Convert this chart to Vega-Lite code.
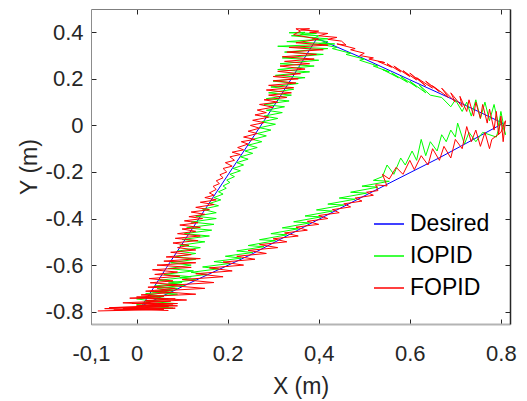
{
  "$schema": "https://vega.github.io/schema/vega-lite/v6.json",
  "width": 419,
  "height": 315,
  "autosize": {"type": "none"},
  "padding": {"left": 91, "top": 9, "right": 17, "bottom": 77},
  "background": "white",
  "datasets": {
    "des": [
      {"x":0.012,"y":-0.775},{"x":0.066,"y":-0.61},{"x":0.169,"y":-0.306},{"x":0.315,"y":0.123},{"x":0.396,"y":0.374},
      {"x":0.5,"y":0.286},{"x":0.6,"y":0.196},{"x":0.703,"y":0.104},{"x":0.805,"y":0.009},{"x":0.666,"y":-0.138},
      {"x":0.556,"y":-0.247},{"x":0.447,"y":-0.356},{"x":0.352,"y":-0.452},{"x":0.249,"y":-0.557},{"x":0.13,"y":-0.665},{"x":0.012,"y":-0.775}
    ],
    "iop": [
      {"x":0.0,"y":-0.79},{"x":0.08,"y":-0.785},{"x":0.01,"y":-0.775},{"x":0.085,"y":-0.765},{"x":0.02,"y":-0.755},{"x":0.07,"y":-0.745},{"x":0.03,"y":-0.735},{"x":0.09,"y":-0.725},{"x":0.035,"y":-0.715},{"x":0.09,"y":-0.7},
      {"x":0.04,"y":-0.69},{"x":0.1,"y":-0.675},{"x":0.05,"y":-0.665},{"x":0.12,"y":-0.65},{"x":0.06,"y":-0.64},{"x":0.125,"y":-0.625},{"x":0.07,"y":-0.615},{"x":0.12,"y":-0.6},{"x":0.075,"y":-0.59},{"x":0.13,"y":-0.575},
      {"x":0.085,"y":-0.565},{"x":0.13,"y":-0.55},{"x":0.09,"y":-0.54},{"x":0.14,"y":-0.525},{"x":0.095,"y":-0.515},{"x":0.15,"y":-0.5},{"x":0.1,"y":-0.49},{"x":0.16,"y":-0.475},{"x":0.105,"y":-0.465},{"x":0.165,"y":-0.45},
      {"x":0.11,"y":-0.44},{"x":0.17,"y":-0.425},{"x":0.12,"y":-0.415},{"x":0.175,"y":-0.4},{"x":0.13,"y":-0.39},{"x":0.175,"y":-0.375},{"x":0.145,"y":-0.36},{"x":0.18,"y":-0.345},{"x":0.16,"y":-0.335},{"x":0.185,"y":-0.32},
      {"x":0.17,"y":-0.31},{"x":0.19,"y":-0.295},{"x":0.18,"y":-0.285},{"x":0.197,"y":-0.27},{"x":0.19,"y":-0.26},{"x":0.205,"y":-0.245},{"x":0.198,"y":-0.235},{"x":0.215,"y":-0.22},{"x":0.205,"y":-0.21},{"x":0.228,"y":-0.195},
      {"x":0.212,"y":-0.185},{"x":0.235,"y":-0.17},{"x":0.22,"y":-0.16},{"x":0.245,"y":-0.145},{"x":0.228,"y":-0.135},{"x":0.255,"y":-0.12},{"x":0.238,"y":-0.11},{"x":0.265,"y":-0.095},{"x":0.245,"y":-0.085},{"x":0.275,"y":-0.07},
      {"x":0.255,"y":-0.06},{"x":0.285,"y":-0.045},{"x":0.265,"y":-0.035},{"x":0.295,"y":-0.02},{"x":0.27,"y":-0.01},{"x":0.305,"y":0.005},{"x":0.275,"y":0.015},{"x":0.31,"y":0.03},{"x":0.28,"y":0.04},{"x":0.32,"y":0.055},
      {"x":0.285,"y":0.065},{"x":0.325,"y":0.08},{"x":0.28,"y":0.09},{"x":0.335,"y":0.105},{"x":0.285,"y":0.115},{"x":0.34,"y":0.13},{"x":0.29,"y":0.14},{"x":0.345,"y":0.155},{"x":0.295,"y":0.165},{"x":0.355,"y":0.18},
      {"x":0.3,"y":0.19},{"x":0.37,"y":0.205},{"x":0.305,"y":0.215},{"x":0.38,"y":0.23},{"x":0.31,"y":0.24},{"x":0.39,"y":0.255},{"x":0.315,"y":0.265},{"x":0.4,"y":0.28},{"x":0.32,"y":0.29},{"x":0.41,"y":0.305},
      {"x":0.325,"y":0.315},{"x":0.42,"y":0.33},{"x":0.31,"y":0.34},{"x":0.435,"y":0.35},{"x":0.33,"y":0.36},{"x":0.42,"y":0.372},{"x":0.34,"y":0.385},{"x":0.395,"y":0.395},{"x":0.335,"y":0.398},
      {"x":0.37,"y":0.4},{"x":0.36,"y":0.39},{"x":0.4,"y":0.385},{"x":0.385,"y":0.37},{"x":0.42,"y":0.36},{"x":0.4,"y":0.35},{"x":0.44,"y":0.335},{"x":0.43,"y":0.33},{"x":0.47,"y":0.31},{"x":0.46,"y":0.305},
      {"x":0.5,"y":0.285},{"x":0.49,"y":0.28},{"x":0.53,"y":0.255},{"x":0.52,"y":0.255},{"x":0.555,"y":0.23},{"x":0.54,"y":0.24},{"x":0.575,"y":0.205},{"x":0.56,"y":0.225},{"x":0.595,"y":0.185},{"x":0.58,"y":0.21},
      {"x":0.615,"y":0.165},{"x":0.6,"y":0.19},{"x":0.635,"y":0.14},{"x":0.62,"y":0.175},{"x":0.645,"y":0.13},
      {"x":0.67,"y":0.12},{"x":0.69,"y":0.08},{"x":0.7,"y":0.11},{"x":0.715,"y":0.06},{"x":0.725,"y":0.1},{"x":0.735,"y":0.04},{"x":0.745,"y":0.11},{"x":0.755,"y":0.03},{"x":0.765,"y":0.1},{"x":0.775,"y":0.02},
      {"x":0.785,"y":0.09},{"x":0.795,"y":0.0},{"x":0.8,"y":0.06},{"x":0.81,"y":-0.04},{"x":0.8,"y":0.02},{"x":0.79,"y":-0.05},
      {"x":0.76,"y":-0.03},{"x":0.745,"y":-0.07},{"x":0.73,"y":-0.03},{"x":0.72,"y":-0.08},{"x":0.705,"y":0.01},{"x":0.7,"y":-0.05},{"x":0.69,"y":-0.02},{"x":0.68,"y":-0.07},{"x":0.67,"y":-0.04},{"x":0.66,"y":-0.11},
      {"x":0.645,"y":-0.07},{"x":0.635,"y":-0.13},{"x":0.625,"y":-0.06},{"x":0.615,"y":-0.15},{"x":0.605,"y":-0.11},{"x":0.59,"y":-0.17},{"x":0.58,"y":-0.14},{"x":0.565,"y":-0.21},{"x":0.55,"y":-0.17},{"x":0.54,"y":-0.22},
      {"x":0.52,"y":-0.236},{"x":0.555,"y":-0.24},{"x":0.495,"y":-0.261},{"x":0.53,"y":-0.265},{"x":0.47,"y":-0.287},{"x":0.505,"y":-0.291},{"x":0.445,"y":-0.312},{"x":0.48,"y":-0.317},
      {"x":0.42,"y":-0.338},{"x":0.455,"y":-0.342},{"x":0.395,"y":-0.363},{"x":0.43,"y":-0.368},{"x":0.37,"y":-0.389},{"x":0.405,"y":-0.393},{"x":0.345,"y":-0.414},{"x":0.38,"y":-0.419},
      {"x":0.32,"y":-0.44},{"x":0.355,"y":-0.444},{"x":0.295,"y":-0.465},{"x":0.33,"y":-0.47},{"x":0.27,"y":-0.491},{"x":0.305,"y":-0.495},{"x":0.245,"y":-0.516},{"x":0.28,"y":-0.521},
      {"x":0.22,"y":-0.539},{"x":0.255,"y":-0.546},{"x":0.195,"y":-0.562},{"x":0.23,"y":-0.57},{"x":0.17,"y":-0.585},{"x":0.205,"y":-0.593},{"x":0.145,"y":-0.608},{"x":0.18,"y":-0.616},
      {"x":0.12,"y":-0.631},{"x":0.155,"y":-0.64},{"x":0.095,"y":-0.654},{"x":0.13,"y":-0.663},{"x":0.07,"y":-0.677},{"x":0.105,"y":-0.686},{"x":0.045,"y":-0.7},{"x":0.08,"y":-0.71},
      {"x":0.02,"y":-0.723},{"x":0.055,"y":-0.733},{"x":0.0,"y":-0.745},{"x":0.035,"y":-0.755},{"x":0.0,"y":-0.77},{"x":0.07,"y":-0.78}
    ],
    "fop": [
      {"x":-0.085,"y":-0.797},{"x":0.06,"y":-0.79},{"x":-0.05,"y":-0.793},{"x":0.085,"y":-0.785},{"x":-0.03,"y":-0.787},{"x":0.07,"y":-0.778},{"x":-0.06,"y":-0.783},{"x":0.08,"y":-0.772},{"x":0.0,"y":-0.775},{"x":0.09,"y":-0.765},
      {"x":-0.01,"y":-0.765},{"x":0.075,"y":-0.755},{"x":0.02,"y":-0.752},{"x":0.085,"y":-0.745},{"x":-0.015,"y":-0.742},{"x":0.06,"y":-0.735},
      {"x":0.01,"y":-0.728},{"x":0.075,"y":-0.718},{"x":0.02,"y":-0.712},{"x":0.085,"y":-0.7},{"x":0.025,"y":-0.695},{"x":0.09,"y":-0.684},{"x":0.03,"y":-0.676},{"x":0.08,"y":-0.668},{"x":0.028,"y":-0.658},{"x":0.095,"y":-0.648},
      {"x":0.04,"y":-0.64},{"x":0.09,"y":-0.63},{"x":0.035,"y":-0.62},{"x":0.12,"y":-0.61},{"x":0.045,"y":-0.6},{"x":0.13,"y":-0.59},{"x":0.06,"y":-0.583},{"x":0.14,"y":-0.572},{"x":0.065,"y":-0.565},{"x":0.12,"y":-0.555},
      {"x":0.075,"y":-0.545},{"x":0.13,"y":-0.535},{"x":0.09,"y":-0.525},{"x":0.115,"y":-0.515},
      {"x":0.08,"y":-0.505},{"x":0.135,"y":-0.495},{"x":0.085,"y":-0.485},{"x":0.14,"y":-0.475},{"x":0.09,"y":-0.465},{"x":0.13,"y":-0.455},{"x":0.1,"y":-0.445},{"x":0.14,"y":-0.438},{"x":0.095,"y":-0.428},{"x":0.135,"y":-0.418},
      {"x":0.105,"y":-0.41},{"x":0.145,"y":-0.4},{"x":0.115,"y":-0.392},{"x":0.15,"y":-0.382},{"x":0.12,"y":-0.372},{"x":0.16,"y":-0.362},{"x":0.13,"y":-0.352},{"x":0.17,"y":-0.34},{"x":0.14,"y":-0.33},{"x":0.175,"y":-0.32},
      {"x":0.15,"y":-0.31},{"x":0.17,"y":-0.3},{"x":0.16,"y":-0.29},{"x":0.175,"y":-0.275},{"x":0.168,"y":-0.262},{"x":0.182,"y":-0.25},{"x":0.175,"y":-0.238},{"x":0.19,"y":-0.225},{"x":0.183,"y":-0.212},{"x":0.198,"y":-0.2},
      {"x":0.19,"y":-0.185},{"x":0.21,"y":-0.175},{"x":0.195,"y":-0.16},{"x":0.215,"y":-0.15},{"x":0.205,"y":-0.135},{"x":0.228,"y":-0.125},{"x":0.21,"y":-0.115},{"x":0.235,"y":-0.105},
      {"x":0.222,"y":-0.095},{"x":0.245,"y":-0.08},{"x":0.23,"y":-0.07},{"x":0.26,"y":-0.06},{"x":0.235,"y":-0.05},{"x":0.265,"y":-0.035},{"x":0.245,"y":-0.025},{"x":0.27,"y":-0.012},{"x":0.25,"y":0.0},{"x":0.28,"y":0.012},
      {"x":0.255,"y":0.022},{"x":0.29,"y":0.035},{"x":0.26,"y":0.045},{"x":0.285,"y":0.055},{"x":0.265,"y":0.066},{"x":0.3,"y":0.078},{"x":0.27,"y":0.09},{"x":0.31,"y":0.1},
      {"x":0.28,"y":0.11},{"x":0.33,"y":0.12},{"x":0.29,"y":0.13},{"x":0.34,"y":0.14},{"x":0.285,"y":0.152},{"x":0.345,"y":0.162},{"x":0.29,"y":0.172},{"x":0.35,"y":0.182},{"x":0.3,"y":0.192},
      {"x":0.355,"y":0.2},{"x":0.3,"y":0.21},{"x":0.36,"y":0.222},{"x":0.31,"y":0.232},{"x":0.37,"y":0.242},{"x":0.315,"y":0.255},{"x":0.38,"y":0.265},{"x":0.325,"y":0.275},{"x":0.39,"y":0.285},{"x":0.32,"y":0.295},
      {"x":0.395,"y":0.305},{"x":0.33,"y":0.315},{"x":0.41,"y":0.325},{"x":0.335,"y":0.335},{"x":0.42,"y":0.345},{"x":0.35,"y":0.355},{"x":0.4,"y":0.37},{"x":0.345,"y":0.39},{"x":0.36,"y":0.405},{"x":0.35,"y":0.415},
      {"x":0.38,"y":0.415},{"x":0.36,"y":0.41},{"x":0.4,"y":0.405},{"x":0.38,"y":0.4},{"x":0.42,"y":0.395},{"x":0.4,"y":0.385},{"x":0.44,"y":0.378},{"x":0.42,"y":0.37},{"x":0.45,"y":0.362},
      {"x":0.46,"y":0.345},{"x":0.44,"y":0.35},{"x":0.48,"y":0.33},{"x":0.47,"y":0.325},{"x":0.5,"y":0.31},{"x":0.49,"y":0.3},{"x":0.52,"y":0.29},{"x":0.51,"y":0.285},{"x":0.545,"y":0.27},{"x":0.53,"y":0.275},
      {"x":0.56,"y":0.25},{"x":0.55,"y":0.265},{"x":0.58,"y":0.23},{"x":0.565,"y":0.255},{"x":0.6,"y":0.21},{"x":0.585,"y":0.235},{"x":0.615,"y":0.195},{"x":0.6,"y":0.225},{"x":0.635,"y":0.17},{"x":0.615,"y":0.205},
      {"x":0.65,"y":0.16},{"x":0.635,"y":0.19},{"x":0.665,"y":0.145},{"x":0.65,"y":0.17},{"x":0.685,"y":0.12},{"x":0.67,"y":0.16},{"x":0.7,"y":0.1},{"x":0.69,"y":0.14},{"x":0.715,"y":0.08},{"x":0.71,"y":0.125},
      {"x":0.725,"y":0.06},{"x":0.73,"y":0.11},{"x":0.74,"y":0.04},{"x":0.745,"y":0.1},{"x":0.755,"y":0.03},{"x":0.76,"y":0.09},{"x":0.77,"y":0.01},{"x":0.775,"y":0.07},{"x":0.785,"y":-0.02},{"x":0.79,"y":0.06},
      {"x":0.795,"y":-0.04},{"x":0.8,"y":0.04},{"x":0.805,"y":-0.07},{"x":0.81,"y":0.02},{"x":0.8,"y":-0.03},
      {"x":0.78,"y":-0.06},{"x":0.775,"y":-0.1},{"x":0.765,"y":-0.03},{"x":0.755,"y":-0.09},{"x":0.745,"y":-0.02},{"x":0.735,"y":-0.07},{"x":0.725,"y":-0.005},{"x":0.715,"y":-0.1},{"x":0.7,"y":-0.06},{"x":0.69,"y":-0.14},
      {"x":0.675,"y":-0.09},{"x":0.665,"y":-0.15},{"x":0.65,"y":-0.1},{"x":0.64,"y":-0.17},{"x":0.625,"y":-0.13},{"x":0.61,"y":-0.19},{"x":0.6,"y":-0.15},{"x":0.585,"y":-0.21},{"x":0.57,"y":-0.18},{"x":0.555,"y":-0.23},
      {"x":0.54,"y":-0.21},{"x":0.55,"y":-0.26},{"x":0.525,"y":-0.255},{"x":0.53,"y":-0.28},{"x":0.505,"y":-0.287},{"x":0.52,"y":-0.3},{"x":0.48,"y":-0.312},{"x":0.495,"y":-0.325},{"x":0.455,"y":-0.337},{"x":0.47,"y":-0.35},
      {"x":0.43,"y":-0.362},{"x":0.445,"y":-0.375},{"x":0.4,"y":-0.387},{"x":0.42,"y":-0.4},{"x":0.375,"y":-0.412},{"x":0.4,"y":-0.425},{"x":0.35,"y":-0.437},{"x":0.375,"y":-0.45},{"x":0.325,"y":-0.462},{"x":0.355,"y":-0.475},
      {"x":0.3,"y":-0.487},{"x":0.33,"y":-0.5},{"x":0.27,"y":-0.512},{"x":0.31,"y":-0.525},{"x":0.245,"y":-0.537},{"x":0.285,"y":-0.55},{"x":0.22,"y":-0.562},{"x":0.26,"y":-0.575},{"x":0.19,"y":-0.587},{"x":0.235,"y":-0.6},
      {"x":0.16,"y":-0.612},{"x":0.21,"y":-0.625},{"x":0.13,"y":-0.637},{"x":0.19,"y":-0.65},{"x":0.1,"y":-0.662},{"x":0.17,"y":-0.675},{"x":0.07,"y":-0.687},{"x":0.15,"y":-0.7},{"x":0.04,"y":-0.712},{"x":0.13,"y":-0.725},
      {"x":0.0,"y":-0.737},{"x":0.11,"y":-0.75},{"x":-0.03,"y":-0.762},{"x":0.09,"y":-0.775},{"x":-0.07,"y":-0.787},{"x":0.07,"y":-0.795}
    ]
  },
  "layer": [
    {
      "data": {"name": "des"},
      "mark": {"type": "line", "strokeWidth": 1},
      "encoding": {
        "x": {"field": "x", "type": "quantitative", "scale": {"domain": [-0.1, 0.82], "nice": false, "zero": false},
          "axis": {"orient": "bottom", "values": [-0.1, 0, 0.2, 0.4, 0.6, 0.8], "title": "X (m)",
            "labelExpr": "datum.value < -0.05 ? '-0,1' : datum.value == 0 ? '0' : abs(datum.value - 0.4) < 0.01 ? '0,4' : format(datum.value, '.1f')",
            "domainColor": "#b4b4b4", "domainWidth": 2, "labelPadding": 24, "titlePadding": 11}},
        "y": {"field": "y", "type": "quantitative", "scale": {"domain": [-0.853, 0.5], "nice": false, "zero": false},
          "axis": {"orient": "left", "values": [-0.8, -0.6, -0.4, -0.2, 0, 0.2, 0.4], "title": "Y (m)",
            "labelExpr": "datum.value == 0 ? '0' : (datum.value < 0 ? '-' : '') + format(abs(datum.value), '.1f')",
            "domainColor": "#8c8c8c", "labelPadding": 13, "titlePadding": 4}},
        "color": {"datum": "Desired", "type": "nominal",
          "scale": {"domain": ["Desired", "IOPID", "FOPID"], "range": ["#0000ff", "#00ff00", "#ff0000"]},
          "legend": {"orient": "none", "legendX": 282, "legendY": 199, "title": null, "symbolType": "stroke", "symbolSize": 900,
            "symbolStrokeWidth": 1.5, "labelFontSize": 23, "labelColor": "#000000", "labelOffset": 5, "rowPadding": 4, "padding": 0, "labelFont": "Liberation Sans"}},
        "order": {"value": null}
      }
    },
    {
      "data": {"name": "iop"},
      "mark": {"type": "line", "strokeWidth": 1},
      "encoding": {
        "x": {"field": "x", "type": "quantitative", "scale": {"domain": [-0.1, 0.82], "nice": false, "zero": false},
          "axis": {"orient": "top", "values": [0, 0.2, 0.4, 0.6, 0.8], "labels": false, "title": null, "domainColor": "#7f7f7f"}},
        "y": {"field": "y", "type": "quantitative", "scale": {"domain": [-0.853, 0.5], "nice": false, "zero": false},
          "axis": {"orient": "right", "values": [-0.8, -0.6, -0.4, -0.2, 0, 0.2, 0.4], "labels": false, "title": null, "domainColor": "#262626", "domainWidth": 1.5}},
        "color": {"datum": "IOPID", "type": "nominal"},
        "order": {"value": null}
      }
    },
    {
      "data": {"name": "fop"},
      "mark": {"type": "line", "strokeWidth": 1},
      "encoding": {
        "x": {"field": "x", "type": "quantitative", "scale": {"domain": [-0.1, 0.82], "nice": false, "zero": false}, "axis": null},
        "y": {"field": "y", "type": "quantitative", "scale": {"domain": [-0.853, 0.5], "nice": false, "zero": false}, "axis": null},
        "color": {"datum": "FOPID", "type": "nominal"},
        "order": {"value": null}
      }
    }
  ],
  "resolve": {"axis": {"x": "independent", "y": "independent"}},
  "config": {
    "view": {"stroke": null},
    "font": "Liberation Sans",
    "axis": {
      "labelFont": "Liberation Sans", "titleFont": "Liberation Sans", "labelColor": "#262626", "titleColor": "#262626",
      "tickColor": "#262626", "grid": false, "labelFontSize": 22, "titleFontSize": 23, "titleFontWeight": "normal",
      "tickSize": -5, "labelFlush": false, "labelOverlap": false
    }
  }
}
